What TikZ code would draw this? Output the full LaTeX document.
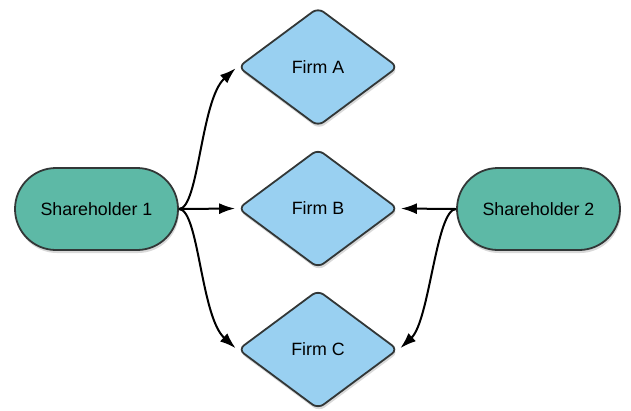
\documentclass[tikz,border=0pt]{standalone}
\usepackage{fontspec}
\setmainfont{Liberation Sans}
\usetikzlibrary{shapes.geometric,shapes.misc,shadows,arrows.meta}
\definecolor{shgreen}{RGB}{93,185,166}
\definecolor{firmblue}{RGB}{153,208,241}
\definecolor{edgegray}{RGB}{50,55,55}
\tikzset{
  holder/.style={rounded rectangle, draw=edgegray, line width=1.8pt, fill=shgreen,
    minimum width=163pt, minimum height=82pt, inner sep=0pt,
    font=\fontsize{17.8}{20}\selectfont,
    drop shadow={opacity=0.3, shadow xshift=1pt, shadow yshift=-3pt}},
  firm/.style={diamond, draw=edgegray, line width=1.8pt, fill=firmblue,
    minimum width=160pt, minimum height=119pt, inner sep=0pt, rounded corners=7pt,
    font=\fontsize{17.8}{20}\selectfont,
    drop shadow={opacity=0.3, shadow xshift=1pt, shadow yshift=-3pt}},
  link/.style={line width=2pt, shorten >=2pt, -{Latex[length=16pt,width=11pt]}}
}
\begin{document}
\begin{tikzpicture}[x=1pt,y=-1pt]
\useasboundingbox (0,0) rectangle (631,410);
\node[holder] (s1) at (96.5,209) {Shareholder 1};
\node[holder] (s2) at (538.5,209) {Shareholder 2};
\node[firm] (fa) at (318,67) {Firm A};
\node[firm] (fb) at (318,208.5) {Firm B};
\node[firm] (fc) at (318,349.5) {Firm C};
\draw[link] (s1.east) to[out=0,in=222,out distance=20pt,in distance=49pt] (fa.west);
\draw[link] (s1.east) -- (fb.west);
\draw[link] (s1.east) to[out=0,in=138,out distance=20pt,in distance=49pt] (fc.west);
\draw[link] (s2.west) -- (fb.east);
\draw[link] (s2.west) to[out=180,in=43,out distance=20pt,in distance=42pt] (fc.east);
\end{tikzpicture}
\end{document}
